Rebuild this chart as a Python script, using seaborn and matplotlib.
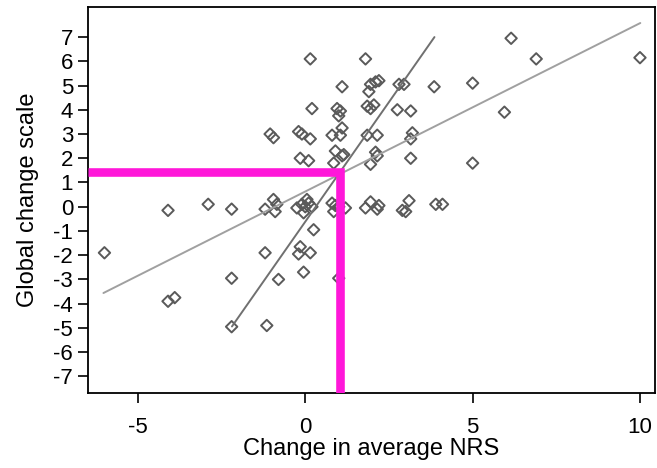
import seaborn as sns
import matplotlib.pyplot as plt
import pandas as pd

# change in average NRS vs global change scale, one point per patient
nrs_change = [-6.0, -4.1, -4.1, -3.9, -2.9, -2.2, -2.2, -2.2, -1.15, -1.2, -0.8,
              -1.05, -0.95, -1.2, -0.95, -0.85, -0.9,
              -0.2, -0.1, 0.15, 0.15, 0.2, -0.15, 0.1, -0.25, -0.1, 0.05, 0.2,
              -0.05, 0.0, 0.1, 0.25, -0.15, -0.2, 0.15, -0.05,
              0.8, 1.05, 1.1, 0.95, 1.05, 1.0, 1.1, 0.9, 1.1, 1.15, 0.85, 0.8,
              0.85, 0.9, 1.0, 1.2, 1.0,
              1.8, 1.95, 2.1, 1.9, 2.2, 1.85, 2.05, 1.95, 1.85, 2.15, 2.1, 2.15,
              1.95, 1.8, 1.95, 2.15, 2.2,
              2.8, 2.95, 2.75, 3.15, 3.2, 3.15, 3.15, 3.1, 3.0, 2.9, 3.85, 3.9, 4.1,
              5.0, 5.0, 5.95, 6.15, 6.9, 10.0]
global_change = [-1.9, -0.15, -3.9, -3.75, 0.1, -0.1, -2.95, -4.95, -4.9, -1.9, -3.0,
                 3.0, 2.85, -0.1, 0.3, 0.1, -0.2,
                 3.1, 3.0, 2.8, 6.1, 4.05, 2.0, 1.9, -0.05, 0.1, 0.3, 0.0,
                 -0.25, 0.0, 0.15, -0.95, -1.65, -1.95, -1.9, -2.7,
                 2.95, 2.95, 3.25, 4.05, 3.95, 3.75, 4.95, 2.3, 2.1, 2.15, 1.8, 0.15,
                 -0.2, 0.05, 0.0, -0.05, -2.95,
                 6.1, 5.05, 5.15, 4.75, 5.2, 4.15, 4.2, 4.05, 2.95, 2.95, 2.25, 2.1,
                 1.75, -0.05, 0.2, -0.1, 0.05,
                 5.05, 5.05, 4.0, 3.95, 3.05, 2.8, 2.0, 0.25, -0.2, -0.15, 4.95, 0.1, 0.1,
                 5.1, 1.8, 3.9, 6.95, 6.1, 6.15]

# fitted lines (end points)
fit_y_on_x_x = [-6.03, 10.01]
fit_y_on_x_y = [-3.56, 7.58]
fit_x_on_y_x = [-2.19, 3.86]
fit_x_on_y_y = [-4.94, 7.0]

# cut-off marked in magenta
cut_x = 1.04
cut_y = 1.43

x_ticks = [-5, 0, 5, 10]
y_ticks = list(range(-7, 8))
x_lim = (-6.49, 10.45)
y_lim = (-7.69, 8.24)

df = pd.DataFrame({'nrs': nrs_change, 'gcs': global_change})

sns.set_style('white')
plt.rcParams['font.family'] = ['Liberation Sans', 'DejaVu Sans']
plt.rcParams['axes.unicode_minus'] = False

fig, ax = plt.subplots(figsize=(6.57, 4.68), dpi=100)
plt.subplots_adjust(left=0.134, right=0.997, bottom=0.16, top=0.985)

sns.scatterplot(x='nrs', y='gcs', data=df, ax=ax, marker='D', s=34,
                facecolor='none', edgecolor='#5a5a5a', linewidth=1.4, zorder=2)

ax.plot(fit_y_on_x_x, fit_y_on_x_y, color='#a0a0a0', lw=1.4, zorder=3)
ax.plot(fit_x_on_y_x, fit_x_on_y_y, color='#707070', lw=1.4, zorder=3)

ax.plot([x_lim[0], cut_x, cut_x], [cut_y, cut_y, y_lim[0]], color='#ff17d9',
        lw=6.2, solid_joinstyle='miter', solid_capstyle='butt', zorder=4)

ax.set_xlim(*x_lim)
ax.set_ylim(*y_lim)
ax.set_xticks(x_ticks)
ax.set_yticks(y_ticks)
ax.tick_params(axis='both', direction='out', length=7.2, width=1.2, labelsize=16,
               colors='black', left=True, bottom=True)
ax.tick_params(axis='x', pad=10)
ax.tick_params(axis='y', pad=3.5)
for s in ax.spines.values():
    s.set_color('black')
    s.set_linewidth(1.3)

ax.set_xlabel('Change in average NRS', fontsize=17, labelpad=0, color='black')
ax.set_ylabel('Global change scale', fontsize=17, labelpad=10, color='black')

fig.savefig('out.png', dpi=100)
